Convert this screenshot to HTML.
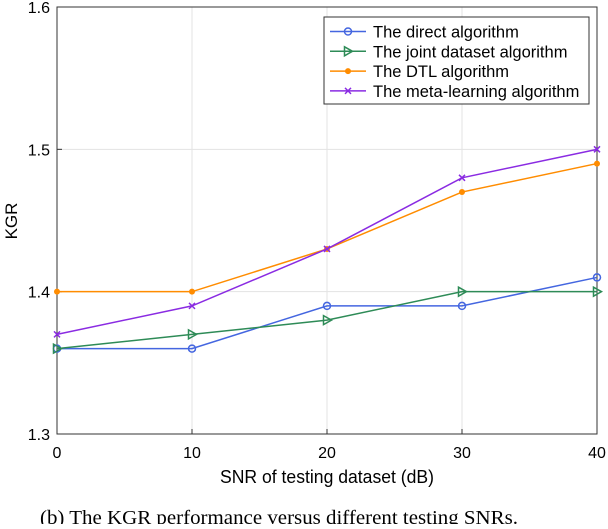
<!DOCTYPE html>
<html><head><meta charset="utf-8"><style>
body{margin:0;background:#fff;width:608px;height:524px;overflow:hidden}
text{font-family:"Liberation Sans",sans-serif}
</style></head><body>
<svg id="chart" width="608" height="524">
<g id="grid"></g><g id="axes"></g><g id="series"></g><g id="legend"></g>
<text x="327" y="483" font-size="18" text-anchor="middle" textLength="214" lengthAdjust="spacingAndGlyphs">SNR of testing dataset (dB)</text>
<text transform="translate(17,221) rotate(-90)" font-size="17" text-anchor="middle">KGR</text>
<text x="279" y="524" font-size="20.5" text-anchor="middle" textLength="478" lengthAdjust="spacingAndGlyphs" style="font-family:'Liberation Serif',serif">(b) The KGR performance versus different testing SNRs.</text>
</svg>
<script>
const categories=[0,10,20,30,40];
const direct=[1.36,1.36,1.39,1.39,1.41];
const joint=[1.36,1.37,1.38,1.40,1.40];
const dtl=[1.40,1.40,1.43,1.47,1.49];
const meta=[1.37,1.39,1.43,1.48,1.50];
const xTicks=[0,10,20,30,40];
const yTicks=[1.3,1.4,1.5,1.6];
const names=["The direct algorithm","The joint dataset algorithm","The DTL algorithm","The meta-learning algorithm"];
const L=57,R=597,T=7,B=434;
const xs=v=>L+(v-0)/40*(R-L);
const ys=v=>B-(v-1.3)/0.3*(B-T);
const NS="http://www.w3.org/2000/svg";
function mk(tag,attrs,parent){const e=document.createElementNS(NS,tag);for(const k in attrs)e.setAttribute(k,attrs[k]);parent.appendChild(e);return e;}
const grid=document.getElementById('grid'),axes=document.getElementById('axes'),ser=document.getElementById('series'),leg=document.getElementById('legend');
xTicks.forEach(t=>{const x=xs(t);
 const g=mk('line',{x1:x,x2:x,y1:T,y2:B,stroke:'#e3e3e3','stroke-width':1},grid);
 
 
 const tx=mk('text',{x:x,y:B+24,'font-size':16,'text-anchor':'middle'},axes);tx.textContent=t;
 
 
 mk('line',{x1:x,x2:x,y1:B,y2:B-5,stroke:'#333'},axes);});
yTicks.forEach(t=>{const y=ys(t);
 const g=mk('line',{x1:L,x2:R,y1:y,y2:y,stroke:'#e3e3e3','stroke-width':1},grid);
 
 
 const tx=mk('text',{x:L-7,y:y+6,'font-size':16,'text-anchor':'end'},axes);tx.textContent=t.toFixed(1);
 
 
 mk('line',{x1:L,x2:L+5,y1:y,y2:y,stroke:'#333'},axes);});
const box=mk('rect',{x:L,y:T,width:R-L,height:B-T,fill:'none',stroke:'#333','stroke-width':1},axes);


const colors=['#4466e0','#2e8b57','#ff8c00','#8a2be2'];
const all=[direct,joint,dtl,meta];
const sname=['direct','joint','dtl','meta'];
function marker(i,x,y,p){
 const c=colors[i];
 if(i===0)return mk('circle',{cx:x,cy:y,r:3.5,fill:'none',stroke:c,'stroke-width':1.5},p);
 if(i===1)return mk('polygon',{points:`${x-3.5},${y-4.5} ${x+4.5},${y} ${x-3.5},${y+4.5}`,fill:'none',stroke:c,'stroke-width':1.5},p);
 if(i===2)return mk('circle',{cx:x,cy:y,r:3,fill:c},p);
 return mk('path',{d:`M${x-3},${y-3}L${x+3},${y+3}M${x-3},${y+3}L${x+3},${y-3}`,stroke:c,'stroke-width':1.5},p);
}
all.forEach((d,i)=>{
 const pts=d.map((v,j)=>xs(categories[j])+','+ys(v)).join(' ');
 const pl=mk('polyline',{points:pts,fill:'none',stroke:colors[i],'stroke-width':1.5},ser);
 
 
 d.forEach((v,j)=>{const m=marker(i,xs(categories[j]),ys(v),ser);
  
  });
});
const lb=mk('rect',{x:324,y:17,width:265,height:87,fill:'#fff',stroke:'#333','stroke-width':1},leg);


names.forEach((n,i)=>{const y=31.5+i*19.8;
 mk('line',{x1:330,x2:366,y1:y,y2:y,stroke:colors[i],'stroke-width':1.5},leg);
 marker(i,348,y,leg);
 const t=mk('text',{x:373,y:y+6,'font-size':16.5},leg);t.textContent=n;
 
 });
</script>
</body></html>
